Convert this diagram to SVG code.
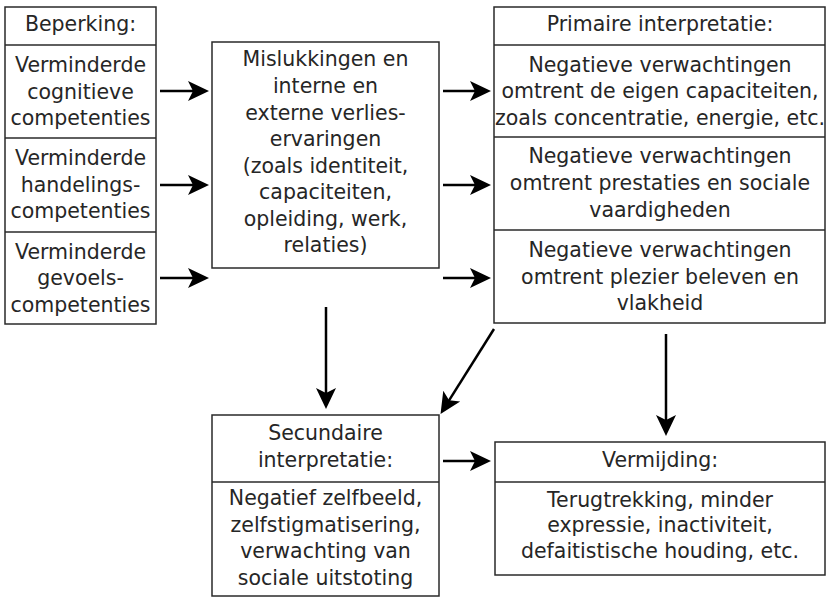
<svg xmlns="http://www.w3.org/2000/svg" width="827" height="597" viewBox="0 0 827 597">
<style>
.box{fill:#fff;stroke:#2a2a2a;stroke-width:1.5}
.div{stroke:#2a2a2a;stroke-width:1.5}
text{font-family:"DejaVu Sans","Open Sans","Liberation Sans",sans-serif;font-size:20.5px;fill:#262626;text-anchor:middle}
.arr{stroke:#000;stroke-width:2.5;fill:none;marker-end:url(#ah)}
</style>
<defs>
<marker id="ah" markerUnits="userSpaceOnUse" markerWidth="22" markerHeight="22" refX="10" refY="10" orient="auto" viewBox="0 0 22 20">
<path d="M0,0 L21,10 L0,20 L5,10 Z" fill="#000"/>
</marker>
</defs>
<g id="beperking">
<rect class="box" x="5" y="7" width="151" height="317"/>
<line class="div" x1="5" y1="45" x2="156" y2="45"/>
<line class="div" x1="5" y1="138" x2="156" y2="138"/>
<line class="div" x1="5" y1="232" x2="156" y2="232"/>
<text x="80.5" y="31">Beperking:</text>
<text x="80.5" y="72">Verminderde</text>
<text x="80.5" y="99">cognitieve</text>
<text x="80.5" y="125">competenties</text>
<text x="80.5" y="165">Verminderde</text>
<text x="80.5" y="192">handelings-</text>
<text x="80.5" y="218">competenties</text>
<text x="80.5" y="259">Verminderde</text>
<text x="80.5" y="285">gevoels-</text>
<text x="80.5" y="312">competenties</text>
</g>
<g id="mislukkingen">
<rect class="box" x="212" y="42" width="227" height="226"/>
<text x="325.5" y="66">Mislukkingen en</text>
<text x="325.5" y="93">interne en</text>
<text x="325.5" y="120">externe verlies-</text>
<text x="325.5" y="146">ervaringen</text>
<text x="325.5" y="173">(zoals identiteit,</text>
<text x="325.5" y="199">capaciteiten,</text>
<text x="325.5" y="226">opleiding, werk,</text>
<text x="325.5" y="252">relaties)</text>
</g>
<g id="primaire">
<rect class="box" x="494" y="7" width="331" height="316"/>
<line class="div" x1="494" y1="45" x2="825" y2="45"/>
<line class="div" x1="494" y1="137" x2="825" y2="137"/>
<line class="div" x1="494" y1="230" x2="825" y2="230"/>
<text x="660" y="31">Primaire interpretatie:</text>
<text x="660" y="72">Negatieve verwachtingen</text>
<text x="660" y="98">omtrent de eigen capaciteiten,</text>
<text x="660" y="125">zoals concentratie, energie, etc.</text>
<text x="660" y="163">Negatieve verwachtingen</text>
<text x="660" y="190">omtrent prestaties en sociale</text>
<text x="660" y="217">vaardigheden</text>
<text x="660" y="257">Negatieve verwachtingen</text>
<text x="660" y="284">omtrent plezier beleven en</text>
<text x="660" y="310">vlakheid</text>
</g>
<g id="secundaire">
<rect class="box" x="212" y="415" width="227" height="181"/>
<line class="div" x1="212" y1="482" x2="439" y2="482"/>
<text x="325.5" y="440">Secundaire</text>
<text x="325.5" y="467">interpretatie:</text>
<text x="325.5" y="505">Negatief zelfbeeld,</text>
<text x="325.5" y="532">zelfstigmatisering,</text>
<text x="325.5" y="558">verwachting van</text>
<text x="325.5" y="585">sociale uitstoting</text>
</g>
<g id="vermijding">
<rect class="box" x="495" y="442" width="330" height="133"/>
<line class="div" x1="495" y1="482" x2="825" y2="482"/>
<text x="660" y="467">Vermijding:</text>
<text x="660" y="507">Terugtrekking, minder</text>
<text x="660" y="532">expressie, inactiviteit,</text>
<text x="660" y="558">defaitistische houding, etc.</text>
</g>
<g id="connectors">
<line class="arr" x1="160" y1="91" x2="198" y2="91"/>
<line class="arr" x1="160" y1="185" x2="198" y2="185"/>
<line class="arr" x1="160" y1="278" x2="198" y2="278"/>
<line class="arr" x1="443" y1="91" x2="480" y2="91"/>
<line class="arr" x1="443" y1="185" x2="480" y2="185"/>
<line class="arr" x1="443" y1="278" x2="480" y2="278"/>
<line class="arr" x1="326" y1="307" x2="326" y2="398"/>
<line class="arr" x1="494" y1="329" x2="446.4" y2="404.6"/>
<line class="arr" x1="443" y1="461" x2="480" y2="461"/>
<line class="arr" x1="666" y1="334" x2="666" y2="425"/>
</g>
</svg>
